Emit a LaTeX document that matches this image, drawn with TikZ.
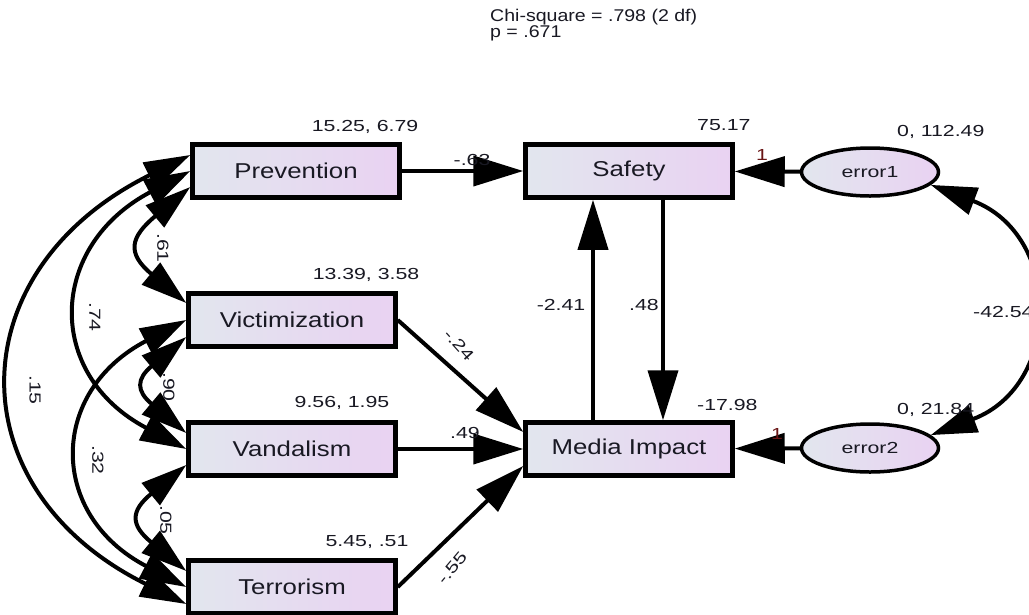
\documentclass[tikz,border=0pt]{standalone}
\usepackage{fontspec}
\setmainfont{Liberation Sans}
\newfontfamily\boxfont{Liberation Sans}[FakeStretch=1.2]
\newfontfamily\labfont{Liberation Sans}[FakeStretch=1.33]
\newfontfamily\chifont{Liberation Sans}[FakeStretch=1.15]
\usetikzlibrary{arrows.meta,calc,shapes.geometric}
\definecolor{boxL}{RGB}{226,230,238}
\definecolor{boxR}{RGB}{233,210,242}
\definecolor{txt}{RGB}{25,25,35}
\definecolor{fixc}{RGB}{105,20,20}
\tikzset{
  varbox/.style={rectangle,draw=black,line width=4.5pt,left color=boxL,right color=boxR,
    minimum width=207pt,minimum height=53pt,inner sep=0pt,text=txt,
    font=\boxfont\fontsize{21.5}{24}\selectfont},
  errell/.style={ellipse,draw=black,line width=3.5pt,left color=boxL,right color=boxR,
    minimum width=137pt,minimum height=48pt,inner sep=0pt,text=txt,
    font=\labfont\fontsize{16}{18}\selectfont},
  lab/.style={inner sep=0pt,text=txt,font=\labfont\fontsize{16}{18}\selectfont},
  chilab/.style={inner sep=0pt,anchor=base west,text=txt,font=\chifont\fontsize{17}{19}\selectfont},
  fixlab/.style={lab,text=fixc},
  arr/.style={line width=4pt,-{Triangle[length=50pt,width=30pt]}},
  cov/.style={line width=4pt,{Triangle[length=46pt,width=28pt]}-{Triangle[length=46pt,width=28pt]}}
}
\begin{document}
\begin{tikzpicture}[x=1pt,y=-1pt]
\clip (0,0) rectangle (1029,614);
\fill[white] (0,0) rectangle (1029,614);
% header
\node[chilab] (chi) at (490,21) {Chi-square = .798 (2 df)};
\node[chilab] (pv) at (490,37) {p = .671};
% boxes
\node[varbox] (prev) at (296,171) {Prevention};
\node[varbox] (vict) at (292,320) {Victimization};
\node[varbox] (vand) at (292,449) {Vandalism};
\node[varbox] (terr) at (292,587) {Terrorism};
\node[varbox] (safe) at (629,171) {Safety};
\node[varbox] (media) at (629,449) {Media Impact};
\node[errell] (e1) at (870,172) {error1};
\node[errell] (e2) at (870,448) {error2};
% coordinates
\coordinate (pA) at ($(prev.west)+(0,-16)$);
\coordinate (pB) at (prev.west);
\coordinate (pC) at ($(prev.west)+(0,16)$);
\coordinate (vA) at ($(vict.west)+(0,-17)$);
\coordinate (vB) at (vict.west);
\coordinate (vC) at ($(vict.west)+(0,17)$);
\coordinate (dA) at ($(vand.west)+(0,-16)$);
\coordinate (dB) at (vand.west);
\coordinate (dC) at ($(vand.west)+(0,16)$);
\coordinate (tA) at ($(terr.west)+(0,-16)$);
\coordinate (tB) at (terr.west);
\coordinate (tC) at ($(terr.west)+(0,17)$);
\coordinate (mUp) at ($(media.west)+(0,-17)$);
\coordinate (mLo) at ($(media.west)+(0,17)$);
\coordinate (mN1) at ($(media.north)+(-36,0)$);
\coordinate (sS1) at ($(safe.south)+(-36,0)$);
\coordinate (mN2) at ($(media.north)+(34,0)$);
\coordinate (sS2) at ($(safe.south)+(34,0)$);
% regressions
\draw[arr] (prev) -- (safe);
\draw[arr] (vict.east) -- (mUp);
\draw[arr] (vand) -- (media);
\draw[arr] (terr.east) -- (mLo);
\draw[arr] (mN1) -- (sS1);
\draw[arr] (sS2) -- (mN2);
\draw[arr] (e1) -- (safe);
\draw[arr] (e2) -- (media);
% covariances
\draw[cov] (pC) .. controls +(-60,50) and +(-60,-50) .. (vA);
\draw[cov] (pB) .. controls +(-142,75) and +(-142,-75) .. (dB);
\draw[cov] (pA) .. controls +(-232,115) and +(-232,-115) .. (tC);
\draw[cov] (vC) .. controls +(-50,42) and +(-50,-42) .. (dA);
\draw[cov] (vB) .. controls +(-138,72) and +(-138,-72) .. (tB);
\draw[cov] (dC) .. controls +(-56,46) and +(-56,-46) .. (tA);
\draw[cov] (e1.-12) .. controls +(132,50) and +(132,-50) .. (e2.12);
% labels
\node[lab] (l1) at (365,127) {15.25, 6.79};
\node[lab] (l2) at (366,275) {13.39, 3.58};
\node[lab] (l3) at (342,403) {9.56, 1.95};
\node[lab] (l4) at (367,542) {5.45, .51};
\node[lab,anchor=west] (l5) at (697,125) {75.17};
\node[lab,anchor=west] (l6) at (697,405) {-17.98};
\node[lab,anchor=west] (l7) at (897,132) {0, 112.49};
\node[lab,anchor=west] (l8) at (897,410) {0, 21.84};
\node[lab,anchor=west] (l9) at (973,312) {-42.54};
\node[lab] (r1) at (472,160) {-.63};
\node[lab] (r2) at (465,433) {.49};
\node[lab,rotate=-48] (r3) at (459,345) {-.24};
\node[lab,rotate=50] (r4) at (452,568) {-.55};
\node[lab] (r5) at (561,305) {-2.41};
\node[lab] (r6) at (644,305) {.48};
\node[fixlab] (f1) at (762,155) {1};
\node[fixlab] (f2) at (777,434) {1};
\node[lab,rotate=-90] (c1) at (163,248) {.61};
\node[lab,rotate=-90] (c2) at (95,317) {.74};
\node[lab,rotate=-90] (c3) at (35,390) {.15};
\node[lab,rotate=-90] (c4) at (169,387) {.90};
\node[lab,rotate=-90] (c5) at (98,460) {.32};
\node[lab,rotate=-90] (c6) at (166,520) {.05};
\end{tikzpicture}
\end{document}
